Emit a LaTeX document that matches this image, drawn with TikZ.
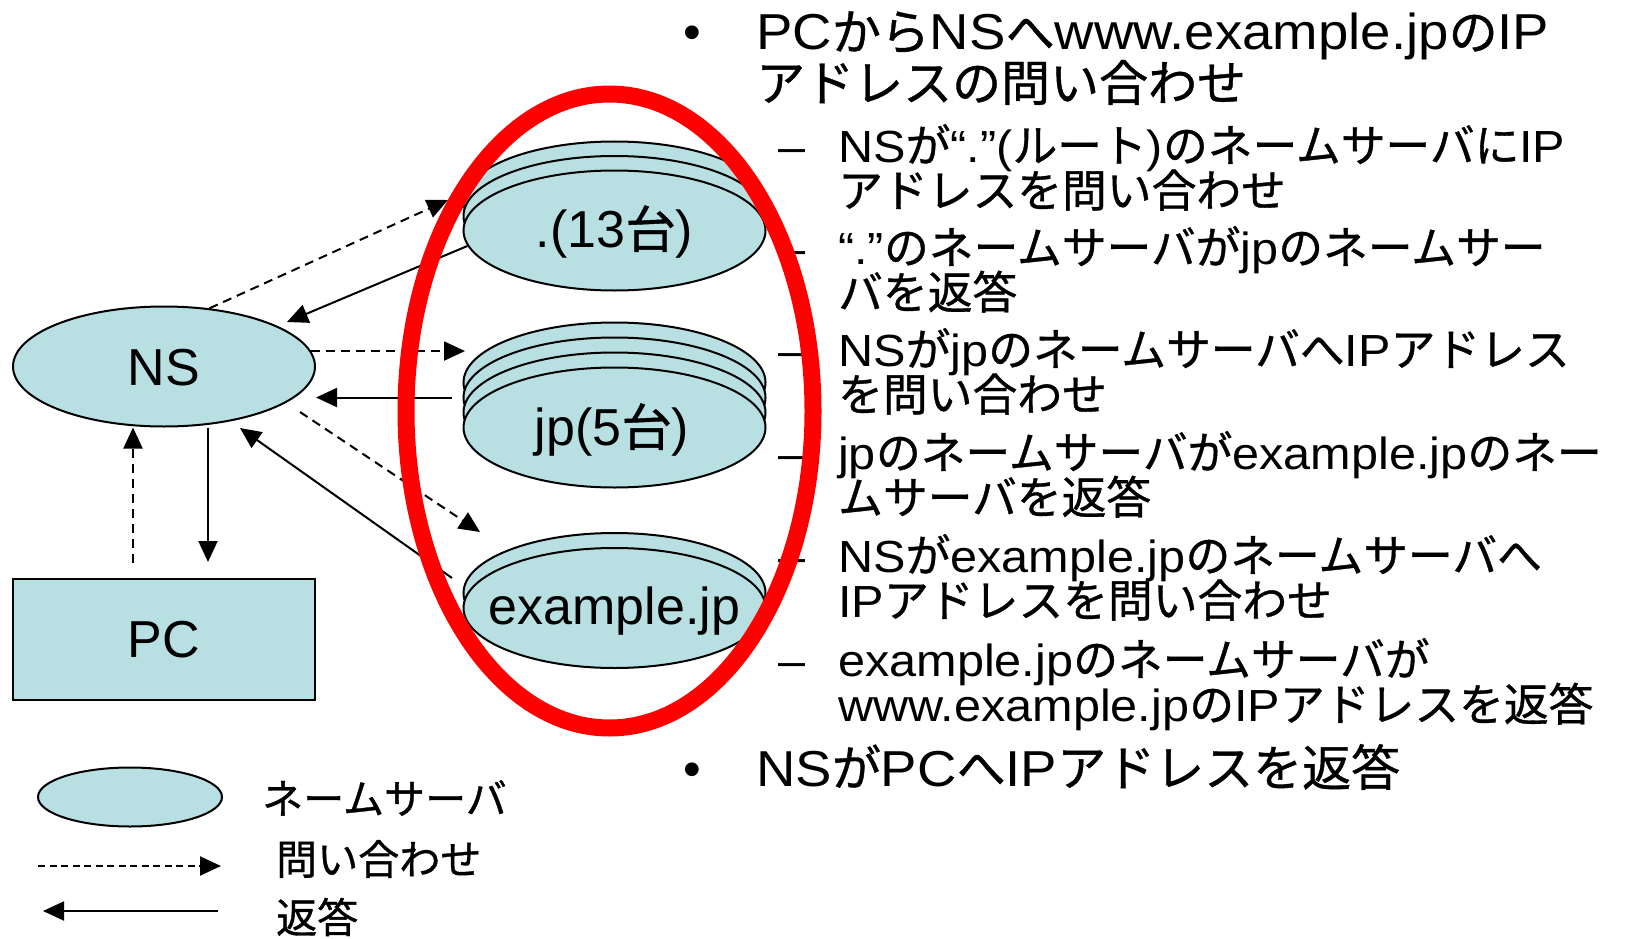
\documentclass[tikz,border=0pt]{standalone}
\usepackage{fontspec}
\setmainfont{Liberation Sans}
\newfontfamily\latinfont{Liberation Sans}
\newfontfamily\latinwide[FakeStretch=1.08]{Liberation Sans}
\newfontfamily\jpfont[Scale=0.97,FakeBold=0.8]{Noto Sans CJK JP}
\newfontfamily\jpsub[Scale=0.995,FakeBold=0.8]{Noto Sans CJK JP}
\newcommand\curlatin{\latinfont}
\newcommand\curjp{\jpfont}
\usetikzlibrary{arrows.meta,shapes.geometric}
% automatic font switching between Latin and Japanese characters
\XeTeXinterchartokenstate=1
\newXeTeXintercharclass\JPclass
\newcount\jpcc
\jpcc="3000\relax
\loop\XeTeXcharclass\jpcc=\JPclass\relax\advance\jpcc by 1\relax\ifnum\jpcc<"3100\relax\repeat
\jpcc="4E00\relax
\loop\XeTeXcharclass\jpcc=\JPclass\relax\advance\jpcc by 1\relax\ifnum\jpcc<"A000\relax\repeat
\jpcc="FF00\relax
\loop\XeTeXcharclass\jpcc=\JPclass\relax\advance\jpcc by 1\relax\ifnum\jpcc<"FFF0\relax\repeat
\XeTeXcharclass"2013=0\relax
\XeTeXcharclass"2014=0\relax
\XeTeXcharclass"2018=0\relax
\XeTeXcharclass"2019=0\relax
\XeTeXcharclass"201C=0\relax
\XeTeXcharclass"201D=0\relax
\XeTeXcharclass"2022=0\relax
\XeTeXinterchartoks 0 \JPclass = {\curjp}
\XeTeXinterchartoks \JPclass 0 = {\curlatin}
\definecolor{srvfill}{RGB}{184,223,226}
\definecolor{zonered}{RGB}{255,0,0}
\begin{document}
\begin{tikzpicture}[x=1pt,y=-1pt,
  srv/.style={ellipse, draw, line width=2pt, fill=srvfill, minimum width=302pt, minimum height=120pt, inner sep=0pt},
  lbl/.style={inner sep=0pt, font=\fontsize{52}{60}\selectfont},
  query/.style={line width=2pt, dash pattern=on 9pt off 6pt, -{Triangle[length=21pt,width=19pt]}},
  reply/.style={line width=2pt, -{Triangle[length=21pt,width=19pt]}},
  mainline/.style={anchor=base west, inner sep=0pt, font=\fontsize{50.5}{55}\selectfont\let\curlatin\latinwide\latinwide},
  subline/.style={anchor=base west, inner sep=0pt, font=\fontsize{45}{50}\selectfont\let\curlatin\latinwide\let\curjp\jpsub\latinwide},
  legendtext/.style={anchor=west, inner sep=0pt, font=\fontsize{42.3}{48}\selectfont},
]
\useasboundingbox (0,0) rectangle (1633,939);

% root servers (3 layers)
\node[srv] (rootC) at (614.5,201.5) {};
\node[srv] (rootB) at (614.5,216) {};
\node[srv] (root) at (614.5,230.5) {};
\node[lbl] (rootT) at (614.5,232) {.(13台)};

% jp servers (4 layers)
\node[srv] (jpD) at (614.5,382.5) {};
\node[srv] (jpC) at (614.5,397.5) {};
\node[srv] (jpB) at (614.5,412.5) {};
\node[srv] (jp) at (614.5,427.5) {};
\node[lbl] (jpT) at (612,430) {jp(5台)};

% example.jp servers (2 layers)
\node[srv] (exB) at (614.5,593) {};
\node[srv] (ex) at (614.5,608) {};
\node[lbl] (exT) at (614.5,611) {example.jp};

% NS and PC
\node[srv] (NS) at (164,366.5) {};
\node[lbl] (NST) at (164,368) {NS};
\node[draw, line width=2pt, fill=srvfill, minimum width=302pt, minimum height=121pt, inner sep=0pt] (PC) at (163.5,639) {};
\node[lbl] (PCT) at (163.5,640) {PC};

% free ends of connectors
\coordinate (q1e) at (448,200);
\coordinate (r2e) at (287,322);
\coordinate (q3e) at (465,351);
\coordinate (r4e) at (316,397.5);
\coordinate (q5s) at (300,412);
\coordinate (q5e) at (480,532);
\coordinate (r6s) at (452,578);
\coordinate (r6e) at (240,428);
\coordinate (r7e) at (208,562);
\coordinate (q8s) at (133,563);

\draw[query] (NS.52.5) -- (q1e);
\draw[reply] (root.186) -- (r2e);
\draw[query] (NS.6) -- (NS.6 -| q3e);
\draw[reply, shorten <=11pt] (jpC.west) -- (r4e);
\draw[query] (q5s) -- (q5e);
\draw[reply] (r6s) -- (r6e);
\draw[reply] (NS.south -| r7e) -- (r7e);
\draw[query] (q8s) -- (q8s |- NS.south);

% legend
\node[srv, minimum width=184pt, minimum height=59pt] (lgS) at (130,797) {};
\node[legendtext] (lgT1) at (262,798) {\jpfont ネームサーバ};
\coordinate (lq1) at (38,866);
\coordinate (lq2) at (221,866);
\draw[query, dash pattern=on 7pt off 4.5pt] (lq1) -- (lq2);
\node[legendtext] (lgT2) at (276,859) {\jpfont 問い合わせ};
\coordinate (lr1) at (218,911);
\coordinate (lr2) at (43,911);
\draw[reply] (lr1) -- (lr2);
\node[legendtext] (lgT3) at (276,917) {\jpfont 返答};

% explanation text
\node[anchor=base, inner sep=0pt, font=\fontsize{50.5}{55}\selectfont] (b1) at (692,50) {•};
\node[mainline] (t1a) at (756,50) {PCからNSへwww.example.jpのIP};
\node[mainline] (t1b) at (756,101) {\jpfont アドレスの問い合わせ};

\node[subline] (d1) at (778,162) {–};
\node[subline] (s1a) at (838,162) {NSが“.”(ルート)のネームサーバにIP};
\node[subline] (s1b) at (838,207) {\curjp アドレスを問い合わせ};

\node[subline] (d2) at (778,264) {–};
\node[subline] (s2a) at (838,264) {“.”のネームサーバがjpのネームサー};
\node[subline] (s2b) at (838,309) {\curjp バを返答};

\node[subline] (d3) at (778,366) {–};
\node[subline] (s3a) at (838,366) {NSがjpのネームサーバへIPアドレス};
\node[subline] (s3b) at (838,411) {\curjp を問い合わせ};

\node[subline] (d4) at (778,469) {–};
\node[subline] (s4a) at (838,469) {jpのネームサーバがexample.jpのネー};
\node[subline] (s4b) at (838,514) {\curjp ムサーバを返答};

\node[subline] (d5) at (778,572) {–};
\node[subline] (s5a) at (838,572) {NSがexample.jpのネームサーバへ};
\node[subline] (s5b) at (838,617) {IPアドレスを問い合わせ};

\node[subline] (d6) at (778,676) {–};
\node[subline] (s6a) at (838,676) {example.jpのネームサーバが};
\node[subline] (s6b) at (838,721) {www.example.jpのIPアドレスを返答};

\node[anchor=base, inner sep=0pt, font=\fontsize{50.5}{55}\selectfont] (b2) at (692,786) {•};
\node[mainline] (t2) at (756,786) {NSがPCへIPアドレスを返答};

% red ellipse around the server stacks
\node[ellipse, draw=zonered, line width=17pt, minimum width=407pt, minimum height=634pt, inner sep=0pt] (zone) at (609.5,411) {};
\end{tikzpicture}
\end{document}
